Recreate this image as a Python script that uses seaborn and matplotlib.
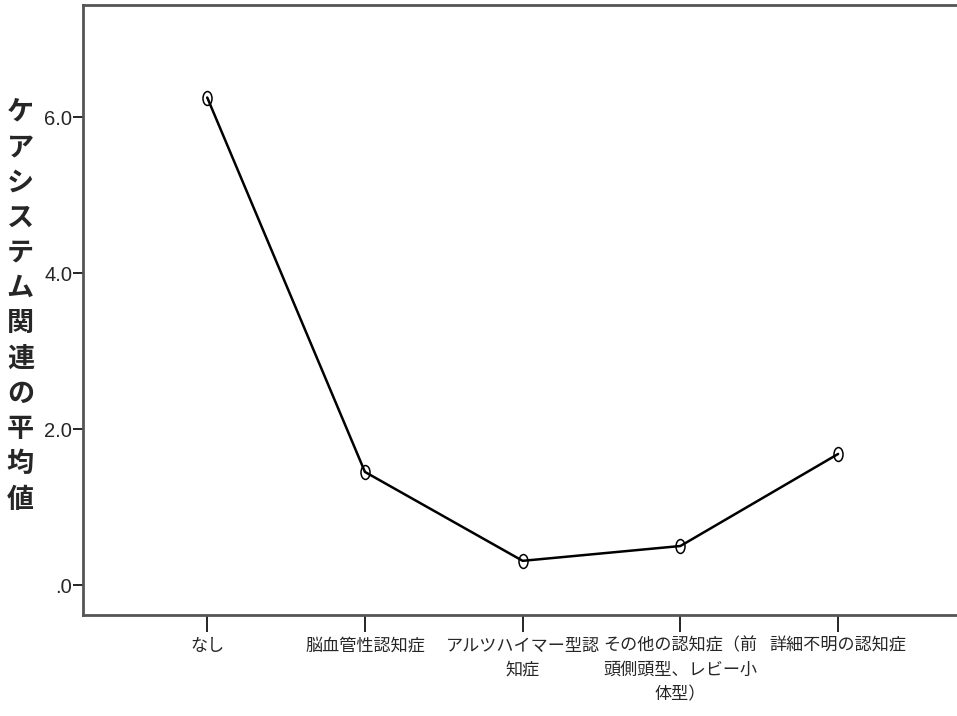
import pandas as pd
import matplotlib.pyplot as plt
import seaborn as sns
from matplotlib.path import Path

# データ
categories = ["なし", "脳血管性認知症", "アルツハイマー型認知症",
              "その他の認知症（前頭側頭型、レビー小体型）", "詳細不明の認知症"]
tick_labels = ["なし", "脳血管性認知症", "アルツハイマー型認\n知症",
               "その他の認知症（前\n頭側頭型、レビー小\n体型）", "詳細不明の認知症"]
means = [6.25, 1.45, 0.31, 0.50, 1.68]
y_ticks = [0, 2, 4, 6]
y_ticklabels = [".0", "2.0", "4.0", "6.0"]
ylabel = "ケアシステム関連の平均値"

df = pd.DataFrame({"cat": categories, "mean": means})

sns.set_style("white")
plt.rcParams['font.family'] = ['Noto Sans CJK JP', 'DejaVu Sans']

# 縦長の楕円マーカー
circ = Path.unit_circle()
ellipse = Path(circ.vertices * [0.65, 1.0], circ.codes)

fig = plt.figure(figsize=(9.57, 7.16), dpi=100)
ax = fig.add_axes([0.087, 0.141, 0.913, 0.852])

sns.lineplot(data=df, x="cat", y="mean", sort=False, ax=ax, color="black",
             linewidth=1.8, marker=ellipse, markersize=10,
             markerfacecolor="none", markeredgecolor="black", markeredgewidth=1.1)

ax.set_xlim(-0.786, 4.754)
ax.set_ylim(-0.385, 7.436)

ax.set_xticks(range(len(categories)))
ax.set_xticklabels(tick_labels, fontsize=12.3, linespacing=1.45)
ax.set_yticks(y_ticks)
ax.set_yticklabels(y_ticklabels, fontsize=14.5,
                   family=['Liberation Sans Narrow', 'Liberation Sans', 'DejaVu Sans'])

ax.tick_params(axis="x", direction="out", length=12, width=1.2, pad=3.5,
               bottom=True, color="black")
ax.tick_params(axis="y", direction="out", length=7, width=1.2, pad=1,
               left=True, color="black")

ax.set_xlabel("")
ax.set_ylabel("\n".join(ylabel), rotation=0, fontsize=19.5, linespacing=1.33,
              fontweight="bold", va="center", ha="center")
ax.yaxis.set_label_coords(-0.072, 0.507)

for side in ["left", "bottom", "top"]:
    ax.spines[side].set_color("#555555")
    ax.spines[side].set_linewidth(2)
ax.spines["right"].set_visible(False)

fig.savefig("out.png", dpi=100)
